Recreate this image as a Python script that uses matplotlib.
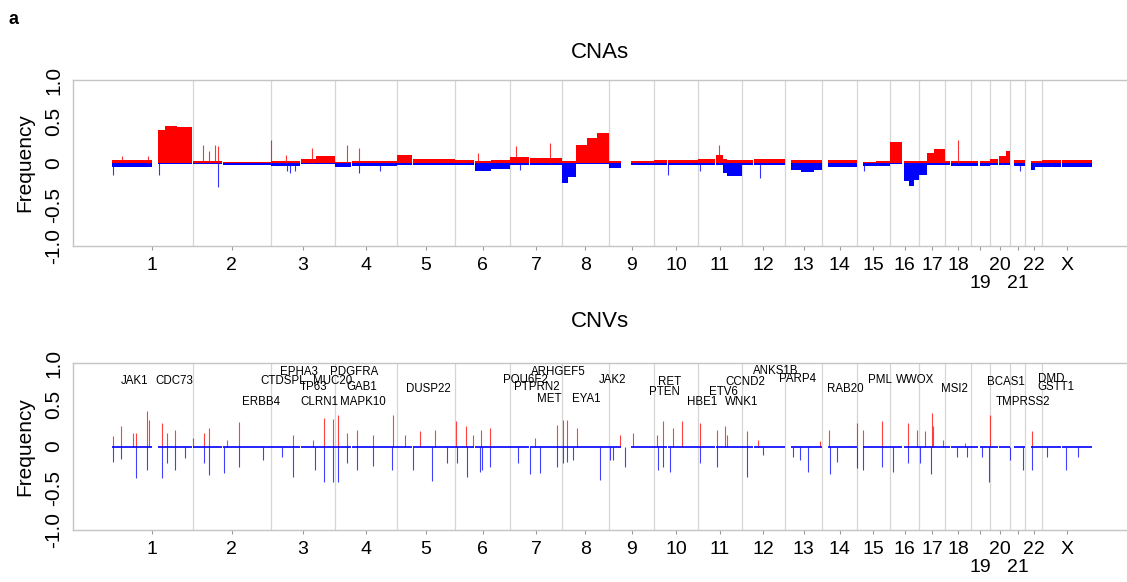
import numpy as np
import matplotlib
matplotlib.use("Agg")
import matplotlib.pyplot as plt

plt.rcParams["font.family"] = ["Liberation Sans", "DejaVu Sans"]

# * Genome layout (chromosome lengths in Mb)
chrom_names = ["1", "2", "3", "4", "5", "6", "7", "8", "9", "10", "11", "12",
               "13", "14", "15", "16", "17", "18", "19", "20", "21", "22", "X"]
chrom_len = [249.25, 243.2, 198.0, 191.15, 180.9, 171.1, 159.1, 146.4, 141.2,
             135.5, 135.0, 133.85, 115.2, 107.35, 102.5, 90.35, 81.2, 78.1,
             59.1, 63.0, 48.1, 51.3, 155.3]
low_labels = ["19", "21"]  # drawn on a second line under the axis

# * CNA segments: chromosome, start, end (Mb), gain and loss frequency
cna_chrom = ["1", "1", "1", "1", "2", "2", "3", "3", "3", "4", "4", "5", "5",
             "6", "6", "6", "7", "7", "8", "8", "8", "8", "8", "9", "9", "10", "10",
             "11", "11", "11", "11", "12", "12", "13", "13", "13", "14", "15", "15",
             "16", "16", "16", "16", "17", "17", "17", "18", "18", "19", "19",
             "20", "20", "20", "21", "22", "22", "X", "X"]
cna_start = [0, 143, 165, 200, 0, 95, 0, 93, 140, 0, 52, 0, 50,
             0, 62, 110, 0, 62, 0, 20, 46, 80, 110, 0, 68, 0, 42,
             0, 55, 77, 90, 0, 38, 19, 50, 90, 19, 20, 60,
             0, 45, 60, 75, 0, 25, 45, 0, 19, 0, 28,
             0, 29, 50, 14, 16, 30, 0, 62]
cna_end = [125, 165, 200, 249, 90, 243, 90, 140, 198, 49, 191, 46, 181,
           58, 110, 171, 58, 159, 20, 44, 80, 110, 146, 39, 141, 39, 135,
           51, 77, 90, 135, 34, 134, 50, 90, 115, 107, 60, 102,
           37, 60, 75, 90, 24, 45, 81, 15, 78, 24, 59,
           25, 50, 63, 48, 30, 51, 58, 155]
cna_gain = [0.04, 0.40, 0.44, 0.43, 0.025, 0.012, 0.02, 0.05, 0.08, 0.015, 0.02, 0.10, 0.05,
            0.04, 0.03, 0.04, 0.07, 0.06, 0.03, 0.03, 0.22, 0.30, 0.36, 0.02, 0.03, 0.04, 0.04,
            0.05, 0.10, 0.05, 0.04, 0.04, 0.05, 0.04, 0.04, 0.04, 0.04, 0.01, 0.03,
            0.25, 0.02, 0.02, 0.02, 0.03, 0.12, 0.17, 0.03, 0.03, 0.03, 0.03,
            0.05, 0.08, 0.14, 0.04, 0.03, 0.03, 0.04, 0.04]
cna_loss = [-0.045, -0.01, -0.01, -0.01, -0.015, -0.02, -0.04, -0.012, -0.012, -0.05, -0.035, -0.02, -0.025,
            -0.02, -0.10, -0.075, -0.02, -0.02, -0.24, -0.17, -0.01, -0.01, -0.01, -0.06, -0.02, -0.02, -0.02,
            -0.02, -0.03, -0.12, -0.16, -0.02, -0.02, -0.08, -0.11, -0.08, -0.05, -0.04, -0.04,
            -0.01, -0.22, -0.28, -0.20, -0.15, -0.02, -0.02, -0.03, -0.04, -0.04, -0.04,
            -0.02, -0.02, -0.02, -0.04, -0.09, -0.05, -0.05, -0.045]

# * CNA single-probe spikes: chromosome, position (Mb), frequency
spike_chrom = ["1", "1", "1", "1", "2", "2", "2", "2", "2", "3", "3", "3", "3",
               "3", "3", "4", "4", "4", "4", "6", "7", "7", "7", "10", "11", "11",
               "12", "15", "18", "21"]
spike_pos = [3, 30, 110, 146, 33, 51, 70, 78, 80, 1, 46, 50, 60,
             75, 127, 37, 74, 76, 140, 71, 18, 123, 31, 43, 5, 65,
             57, 22, 40, 30]
spike_val = [-0.15, 0.08, 0.08, -0.14, 0.22, 0.14, 0.22, 0.21, -0.29, 0.28, 0.10, -0.10, -0.12,
             -0.10, 0.18, 0.22, 0.18, -0.12, -0.10, 0.12, 0.21, 0.24, -0.08, -0.15, -0.10, 0.22,
             -0.18, -0.10, 0.28, -0.10]

# * CNV peaks, genome position (Mb)
cnv_gain_pos = [3.1, 27.9, 65.1, 74.4, 108.4, 114.6, 154.9, 170.4, 195.2, 250.9,
                285.0, 300.5, 356.3, 393.4, 560.7, 622.7, 656.8, 684.7, 700.1, 728.0,
                759.0, 808.6, 870.5, 907.7, 954.2, 1000.7, 1065.7, 1096.7, 1118.4,
                1143.2, 1171.1, 1310.5, 1378.6, 1397.2, 1409.6, 1440.6, 1573.8,
                1614.1, 1688.4, 1707.0, 1738.0, 1765.9, 1821.7, 1874.3, 1899.1,
                1905.3, 1967.3, 2001.4, 2193.5, 2221.4, 2308.2, 2326.7, 2385.6,
                2466.2, 2494.0, 2518.8, 2540.5, 2543.6, 2574.6, 2642.8, 2720.1, 2850.1]
cnv_gain_val = [0.13, 0.24, 0.16, 0.16, 0.43, 0.32, 0.28, 0.16, 0.20, 0.10,
                0.16, 0.22, 0.08, 0.29, 0.14, 0.08, 0.34, 0.33, 0.38, 0.16,
                0.20, 0.14, 0.38, 0.14, 0.18, 0.20, 0.30, 0.24, 0.14,
                0.20, 0.22, 0.10, 0.26, 0.32, 0.32, 0.22, 0.14,
                0.16, 0.14, 0.30, 0.22, 0.30, 0.28, 0.20, 0.24,
                0.14, 0.18, 0.08, 0.06, 0.20, 0.28, 0.20, 0.30,
                0.28, 0.20, 0.18, 0.40, 0.24, 0.08, 0.04, 0.38, 0.18]
cnv_loss_pos = [3.1, 27.9, 74.4, 108.4, 154.9, 170.4, 195.2, 226.2, 285.0, 300.5,
                347.0, 393.4, 467.8, 526.7, 560.7, 628.9, 656.8, 684.7, 700.1, 728.0,
                759.0, 808.6, 867.4, 932.5, 991.3, 1037.8, 1068.8, 1099.8, 1140.1,
                1146.3, 1171.1, 1257.8, 1295.0, 1326.0, 1378.6, 1397.2, 1409.6,
                1428.2, 1511.8, 1542.8, 1552.1, 1589.3, 1691.5, 1707.0, 1728.6,
                1821.7, 1874.3, 1967.3, 2016.9, 2109.8, 2131.5, 2156.3, 2224.5,
                2246.2, 2308.2, 2326.7, 2385.6, 2419.7, 2466.2, 2503.4, 2537.5,
                2618.1, 2649.1, 2695.6, 2717.4, 2782.5, 2822.8, 2850.7, 2897.2,
                2956.1, 2993.3]
cnv_loss_val = [-0.18, -0.15, -0.38, -0.28, -0.38, -0.20, -0.28, -0.14, -0.20, -0.34,
                -0.32, -0.24, -0.16, -0.12, -0.36, -0.28, -0.43, -0.43, -0.42, -0.20,
                -0.28, -0.23, -0.28, -0.28, -0.41, -0.20, -0.20, -0.36, -0.30,
                -0.28, -0.24, -0.20, -0.33, -0.32, -0.24, -0.20, -0.18,
                -0.16, -0.40, -0.16, -0.16, -0.24, -0.28, -0.24, -0.30,
                -0.20, -0.24, -0.36, -0.10, -0.12, -0.16, -0.31, -0.33,
                -0.18, -0.26, -0.28, -0.24, -0.31, -0.20, -0.20, -0.33,
                -0.12, -0.12, -0.12, -0.43, -0.16, -0.28, -0.28, -0.12,
                -0.28, -0.12]

# * Gene annotations on the CNV panel (genome position in Mb, label height)
gene_names = ["JAK1", "CDC73", "ERBB4", "CTDSPL", "EPHA3", "TP63", "CLRN1", "MUC20",
              "PDGFRA", "GAB1", "MAPK10", "DUSP22", "POU6F2", "ARHGEF5", "PTPRN2",
              "MET", "EYA1", "JAK2", "RET", "PTEN", "HBE1", "ETV6", "CCND2", "WNK1",
              "ANKS1B", "PARP4", "RAB20", "PML", "WWOX", "MSI2", "BCAS1", "TMPRSS2",
              "DMD", "GSTT1"]
gene_pos = [68.2, 192.1, 461.6, 529.7, 579.3, 622.7, 641.3, 684.6,
            749.7, 774.5, 777.6, 979.0, 1279.4, 1381.7, 1316.6,
            1353.8, 1468.4, 1549.0, 1725.5, 1710.0, 1827.8, 1892.8, 1961.0, 1951.7,
            2057.0, 2122.1, 2270.8, 2379.2, 2487.6, 2608.4, 2769.5, 2822.2,
            2909.0, 2924.4]
gene_y = [0.78, 0.78, 0.53, 0.79, 0.89, 0.71, 0.53, 0.79,
          0.89, 0.71, 0.53, 0.69, 0.80, 0.89, 0.71,
          0.57, 0.57, 0.80, 0.77, 0.65, 0.53, 0.65, 0.77, 0.53,
          0.90, 0.81, 0.69, 0.80, 0.80, 0.69, 0.77, 0.53,
          0.81, 0.71]

# * Derived coordinates

chrom_len = np.array(chrom_len)
chrom_start = np.concatenate([[0.0], np.cumsum(chrom_len)[:-1]])
chrom_mid = chrom_start + chrom_len / 2
offset = dict(zip(chrom_names, chrom_start))

seg_x0 = np.array([offset[c] for c in cna_chrom]) + np.array(cna_start)
seg_w = np.array(cna_end) - np.array(cna_start)
spike_x = np.array([offset[c] for c in spike_chrom]) + np.array(spike_pos)

RED = "#ff0000"
BLUE = "#0000ff"
GRID = "#d6d6d6"
FRAME = "#c4c4c4"


def style_axes(ax, title, title_pad):
    ax.set_xlim(-121, 3144)
    ax.set_ylim(-1, 1)
    for b in chrom_start[1:]:
        ax.axvline(b, color=GRID, lw=0.9, zorder=0)
    for side in ("left", "bottom", "top"):
        ax.spines[side].set_color(FRAME)
        ax.spines[side].set_linewidth(1.0)
    ax.spines["right"].set_visible(False)
    ax.set_yticks([-1, -0.5, 0, 0.5, 1], ["-1.0", "-0.5", "0", "0.5", "1.0"])
    ax.tick_params(axis="y", length=0, pad=7, labelsize=15, labelrotation=90)
    for lbl in ax.get_yticklabels():
        lbl.set_va("center")
    main = [i for i, c in enumerate(chrom_names) if c not in low_labels]
    low = [i for i, c in enumerate(chrom_names) if c in low_labels]
    ax.set_xticks(chrom_mid[main], [chrom_names[i] for i in main])
    ax.set_xticks(chrom_mid[low], [chrom_names[i] for i in low], minor=True)
    ax.tick_params(axis="x", which="both", length=3, width=0.8, color="#9a9a9a",
                   labelsize=14)
    ax.tick_params(axis="x", which="major", pad=5)
    ax.tick_params(axis="x", which="minor", pad=18)
    ax.set_ylabel("Frequency", fontsize=15)
    ax.yaxis.set_label_coords(-0.037, 0.5)
    ax.set_title(title, fontsize=16, pad=title_pad)


fig = plt.figure(figsize=(11.27, 5.82), dpi=100)
ax1 = fig.add_axes([73 / 1127, 1 - 246 / 582, 1054 / 1127, 166 / 582])
ax2 = fig.add_axes([73 / 1127, 1 - 530 / 582, 1054 / 1127, 167 / 582])

# CNAs: gain/loss segments plus single spikes
ax1.bar(seg_x0, cna_loss, width=seg_w, align="edge", color=BLUE, lw=0, zorder=2)
ax1.bar(seg_x0, cna_gain, width=seg_w, align="edge", color=RED, lw=0, zorder=2)
vals = np.array(spike_val)
ax1.vlines(spike_x[vals > 0], 0, vals[vals > 0], color=RED, lw=0.8, alpha=0.8, zorder=2)
ax1.vlines(spike_x[vals < 0], 0, vals[vals < 0], color=BLUE, lw=0.8, alpha=0.8, zorder=2)
style_axes(ax1, "CNAs", 16)

# CNVs: sparse peaks on a blue baseline
ax2.vlines(cnv_gain_pos, 0, cnv_gain_val, color=RED, lw=0.8, alpha=0.75, zorder=2)
ax2.vlines(cnv_loss_pos, 0, cnv_loss_val, color=BLUE, lw=0.8, alpha=0.75, zorder=2)
ax2.hlines(np.zeros(len(seg_x0)), seg_x0, seg_x0 + seg_w, color=BLUE, lw=1.2, zorder=3)
for name, x, y in zip(gene_names, gene_pos, gene_y):
    ax2.text(x, y, name, ha="center", va="center", fontsize=8.3, zorder=4)
style_axes(ax2, "CNVs", 26)

fig.text(14 / 1127, 1 - 20 / 582, "a", fontsize=13, fontweight="bold",
         ha="center", va="center")

fig.savefig("out.png", dpi=100)
